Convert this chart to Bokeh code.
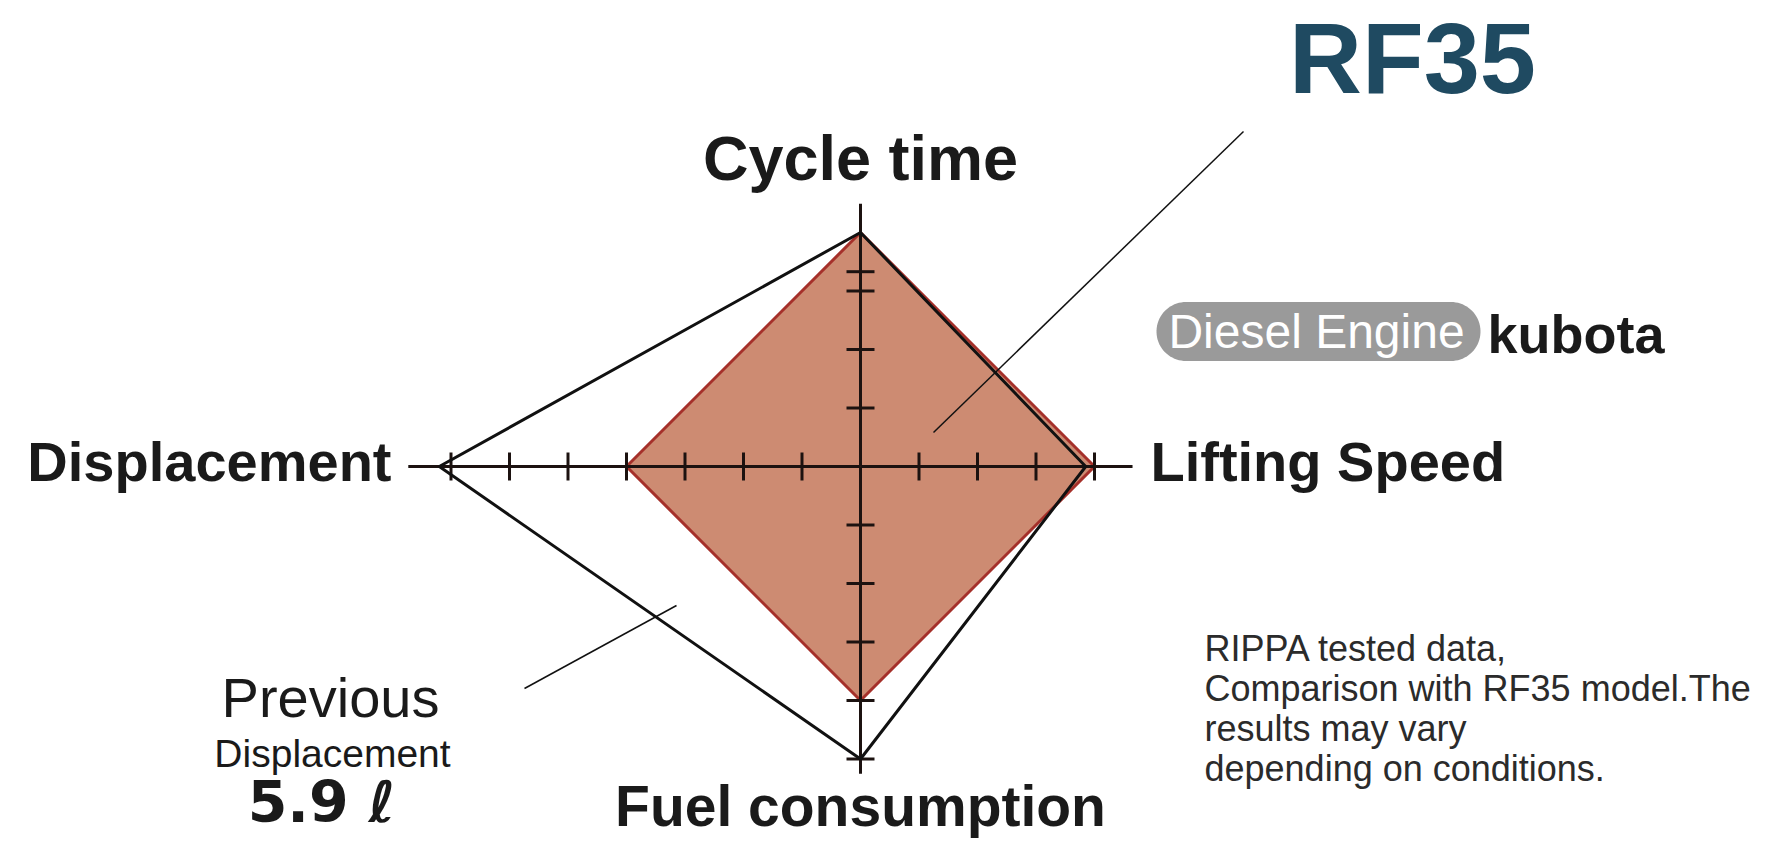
import numpy as np
from bokeh.plotting import figure
from bokeh.models import Range1d
from bokeh.core.properties import value
from bokeh.embed import file_html
from bokeh.resources import INLINE

# ---------------- data ----------------
axes_names = ["Cycle time", "Lifting Speed", "Fuel consumption", "Displacement"]
axis_angles_deg = [90, 0, 270, 180]
rf35_values = [4.0, 4.0, 4.0, 4.0]
previous_values = [4.0, 3.85, 5.0, 7.2]
axis_lengths = [4.49, 4.65, 5.25, 7.73]
axis_ticks = [[1, 2, 3, 3.33], [1, 2, 3, 4], [1, 2, 3, 4, 5], [1, 2, 3, 4, 5, 6, 7]]
model_name = "RF35"
engine_badge = "Diesel Engine"
engine_brand = "kubota"
previous_lines = ["Previous", "Displacement", "5.9 \u2113"]
note_lines = ["RIPPA tested data,", "Comparison with RF35 model.The",
              "results may vary", "depending on conditions."]

# ---------------- figure ----------------
W, H = 1761, 838
PX = 58.5              # pixels per radar unit
CX, CY = 860.0, 466.0  # radar centre on the canvas
p = figure(width=W, height=H, output_backend="svg", toolbar_location=None,
           x_range=Range1d(-CX / PX, (W - CX) / PX),
           y_range=Range1d(-(H - CY) / PX, CY / PX),
           min_border=0)
p.axis.visible = False
p.grid.visible = False
p.outline_line_color = None
p.background_fill_color = "white"
p.border_fill_color = "white"


def dx(px):
    return (px - CX) / PX


def dy(py):
    return (CY - py) / PX


ang = np.deg2rad(axis_angles_deg)
cosv, sinv = np.cos(ang), np.sin(ang)


def poly(vals):
    v = np.asarray(vals, dtype=float)
    return list(v * cosv), list(v * sinv)


# RF35 filled polygon
rx, ry = poly(rf35_values)
p.patch(rx, ry, fill_color="#cd8b72", line_color="#a5302a", line_width=3)

# axes
ex = [L * c for L, c in zip(axis_lengths, cosv)]
ey = [L * s for L, s in zip(axis_lengths, sinv)]
p.segment(x0=[0] * 4, y0=[0] * 4, x1=ex, y1=ey, line_color="#1c1210", line_width=3)

# ticks
half = 14.0 / PX
tx0, ty0, tx1, ty1 = [], [], [], []
for c, s, ticks in zip(cosv, sinv, axis_ticks):
    for t in ticks:
        px_, py_ = t * c, t * s
        nx, ny = -s, c
        tx0.append(px_ - half * nx); ty0.append(py_ - half * ny)
        tx1.append(px_ + half * nx); ty1.append(py_ + half * ny)
p.segment(x0=tx0, y0=ty0, x1=tx1, y1=ty1, line_color="#1c1210", line_width=3)

# previous model outline
qx, qy = poly(previous_values)
p.line(qx + [qx[0]], qy + [qy[0]], line_color="#111111", line_width=3)

# leader lines
p.line([dx(933), dx(1243)], [dy(432), dy(131)], line_color="#111111", line_width=1.5)
p.line([dx(524), dx(676)], [dy(688), dy(605)], line_color="#111111", line_width=1.5)

# engine badge (pill)
cx, cy, bw, bh = dx(1318), dy(331), 324 / PX, 59 / PX
r = bh / 2
a1 = np.linspace(-np.pi / 2, np.pi / 2, 40)
a2 = np.linspace(np.pi / 2, 3 * np.pi / 2, 40)
pill_x = list(cx + bw / 2 - r + r * np.cos(a1)) + list(cx - bw / 2 + r + r * np.cos(a2))
pill_y = list(cy + r * np.sin(a1)) + list(cy + r * np.sin(a2))
p.patch(pill_x, pill_y, fill_color="#9a9a9a", line_color=None)

FONT = "Liberation Sans"
SHIFT = 0.38  # rendered baseline sits this many em below the anchor


def txt(x, base, s, size, style="normal", align="center", color="#1a1a1a", font=FONT):
    p.text(x=[dx(x)], y=[dy(base - SHIFT * size)], text=[s], text_font=value(font),
           text_font_size=str(size) + "px", text_font_style=style,
           text_align=align, text_baseline="alphabetic", text_color=color)


# title
txt(1412, 96, model_name, 101, "bold", "center", "#1f4a61")

# axis labels
txt(CX, 181, axes_names[0], 63, "bold", "center")
txt(1150, 482, axes_names[1], 56, "bold", "left")
txt(CX, 827, axes_names[2], 57, "bold", "center")
txt(391, 482, axes_names[3], 56, "bold", "right")

# badge texts
txt(1316, 349, engine_badge, 48, "normal", "center", "white")
txt(1487, 354, engine_brand, 54, "bold", "left")

# note
for i, s in enumerate(note_lines):
    txt(1204, 662 + i * 40, s, 36, "normal", "left", "#2b2b2b")

# previous model block
txt(330, 718, previous_lines[0], 56, "normal", "center")
txt(332, 768, previous_lines[1], 39, "normal", "center")
txt(321, 823, previous_lines[2], 57, "bold", "center", font="DejaVu Sans")

open("out.html", "w").write(file_html(p, INLINE))
